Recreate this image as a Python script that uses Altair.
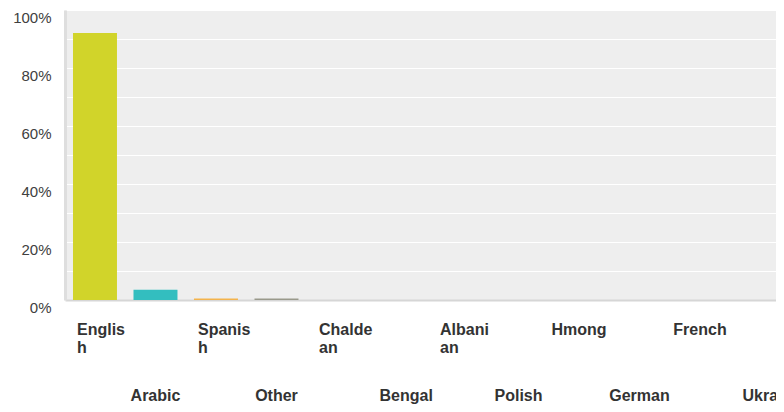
import json
import altair as alt
import pandas as pd

categories = ["English", "Arabic", "Spanish", "Other", "Chaldean", "Bengali",
              "Albanian", "Polish", "Hmong", "German", "French", "Ukranian"]
shares = [0.921, 0.035, 0.005, 0.005, 0.0, 0.0, 0.0, 0.0, 0.0, 0.0, 0.0, 0.0]
colors = ["#D1D42A", "#33BEBF", "#F3B34C", "#99998B", "#5B9BD5", "#ED7D31",
          "#A5A5A5", "#FFC000", "#4472C4", "#70AD47", "#264478", "#9E480E"]
y_ticks = [0.0, 0.1, 0.2, 0.3, 0.4, 0.5, 0.6, 0.7, 0.8, 0.9, 1.0]

df = pd.DataFrame({"language": categories, "share": shares})


def wrap(name):
    return [name[k:k + 6] for k in range(0, len(name), 6)]


top_map = {c: (wrap(c) if i % 2 == 0 else "") for i, c in enumerate(categories)}
low_map = {c: (wrap(c) if i % 2 == 1 else "") for i, c in enumerate(categories)}
top_expr = json.dumps(top_map) + "[datum.value]"
low_expr = json.dumps(low_map) + "[datum.value]"
y_label_expr = "round(datum.value * 10) % 2 == 0 ? format(datum.value, '.0%') : ''"

wrapped_test = "length(datum.value) > 6"
x_scale = alt.Scale(range=[0, 725.5], paddingInner=0.273, paddingOuter=0.132)
label_style = dict(
    labelAngle=0,
    labelFont="Liberation Sans",
    labelFontWeight="bold",
    labelFontSize=16,
    labelColor="#333333",
    labelLineHeight=18.75,
    labelAlign={"condition": {"test": wrapped_test, "value": "left"}, "value": "center"},
    labelOffset={"condition": {"test": wrapped_test, "value": -18}, "value": 0},
    ticks=False,
    tickSize=0,
    labelOverlap=False,
    orient="bottom",
)

y_enc = alt.Y(
    "share:Q",
    title=None,
    scale=alt.Scale(domain=[0, 1], nice=False),
    axis=alt.Axis(
        values=y_ticks,
        labelExpr=y_label_expr,
        grid=True,
        gridColor="#ffffff",
        gridWidth=1,
        domainColor="#dedede",
        domainWidth=3,
        ticks=False,
        tickSize=0,
        labelFont="Liberation Sans",
        labelFontSize=15,
        labelColor="#404040",
        labelPadding=14,
        labelBaseline="top",
        labelOffset=0.5,
        labelOverlap=False,
    ),
)

bars = alt.Chart(df).mark_bar().encode(
    x=alt.X("language:N", sort=categories, title=None, scale=x_scale,
            axis=alt.Axis(labelExpr=top_expr, labelPadding=21,
                          domainColor="#d6d6d6", domainWidth=2, **label_style)),
    y=y_enc,
    color=alt.Color("language:N", scale=alt.Scale(domain=categories, range=colors), legend=None),
)

lower_labels = alt.Chart(df).mark_bar(opacity=0).encode(
    x=alt.X("language:N", sort=categories, title=None, scale=x_scale,
            axis=alt.Axis(labelExpr=low_expr, labelPadding=87, domain=False,
                          grid=False, **label_style)),
    y=y_enc,
)

chart = alt.layer(bars, lower_labels).resolve_axis(x="independent").properties(
    width=711,
    height=290,
    autosize=alt.AutoSizeParams(type="none"),
    padding={"left": 57, "top": 2, "right": 0, "bottom": 104},
    background="white",
).configure_view(fill="#eeeeee", stroke=None)

chart.save("out.html", embed_options={"renderer": "svg", "actions": False})
